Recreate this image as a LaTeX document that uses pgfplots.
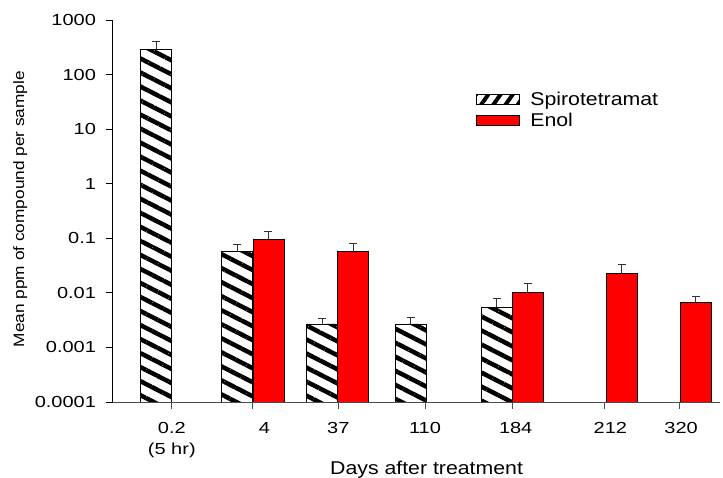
\documentclass[border=0pt]{standalone}
\usepackage{pgfplots}
\pgfplotsset{compat=1.18}
\usetikzlibrary{patterns.meta}
\usepackage{fontspec}
\setmainfont[FakeStretch=1.15]{Liberation Sans}
\newfontfamily\tickfont[FakeStretch=1.25]{Liberation Sans}
\definecolor{enolred}{RGB}{255,0,0}
\pgfplotsset{myerr/.style={
  error bars/y dir=plus, error bars/y explicit, error bars/error mark=|,
  error bars/error bar style={black!80, line width=0.9pt},
  error bars/error mark options={black!80, mark size=4pt, line width=0.9pt}}}
\begin{document}
\begin{tikzpicture}
\useasboundingbox (0,0) rectangle (723pt,478pt);
\begin{axis}[
  at={(112.5pt,76pt)}, anchor=south west,
  scale only axis, width=607.5pt, height=382pt,
  xmin=112.5, xmax=722,
  ymode=log, ymin=1e-4, ymax=1000, log origin=infty,
  axis x line*=bottom, axis y line*=left,
  x axis line style={black!70, line width=0.9pt},
  y axis line style={black, line width=0.8pt},
  tick align=outside, major tick length=7pt,
  xtick style={black!70, line width=0.8pt},
  ytick style={black, line width=0.8pt},
  xtick={172,253,339,426,514,606,681},
  xticklabels={{0.2\\(5 hr)},{\hspace*{24pt}4\\~},{37\\~},{110\\~},{\hspace*{6pt}184\\~},{\hspace*{12pt}212\\~},{\hspace*{4pt}320\\~}},
  xticklabel style={align=center, font=\fontsize{16}{21}\tickfont, anchor=north, yshift=-10pt},
  ytick={1e-4,1e-3,0.01,0.1,1,10,100,1000},
  yticklabels={0.0001,0.001,0.01,0.1,1,10,100,1000},
  yticklabel style={font=\fontsize{16}{20}\tickfont, xshift=-6pt},
  yminorticks=false,
  xlabel={Days after treatment},
  xlabel style={at={(axis description cs:0.517,-0.178)}, anchor=center, font=\fontsize{18.5}{20}\selectfont},
  ylabel={Mean ppm of compound per sample},
  ylabel style={at={(axis description cs:-0.152,0.505)}, anchor=center, rotate=0, font=\fontsize{15}{18}\selectfont},
  /pgf/number format/assume math mode=true,
  ybar, bar width=31, bar shift=0pt,
]
\addplot[draw=black, line width=0.8pt, fill=white, postaction={pattern={Lines[angle=-27, distance=12.5pt, line width=4.5pt]}, pattern color=black}, forget plot, myerr]
  coordinates {
  (156.3,294) +- (0,106)
  (237.5,0.0568) +- (0,0.0217)
  (323,0.00269) +- (0,0.00077)
  (411.8,0.00269) +- (0,0.00081)
  (497.8,0.00543) +- (0,0.00251)
  };
\addplot[draw=black, line width=0.8pt, fill=enolred, forget plot, myerr]
  coordinates {
  (269,0.0958) +- (0,0.036)
  (354,0.0568) +- (0,0.0252)
  (529,0.0102) +- (0,0.0048)
  (623.2,0.0224) +- (0,0.0114)
  (697.8,0.00671) +- (0,0.00194)
  };
\end{axis}
\begin{axis}[
  at={(112.5pt,76pt)}, anchor=south west,
  scale only axis, width=607.5pt, height=382pt,
  xmin=0, xmax=1, ymin=0, ymax=1, hide axis,
  legend style={at={(rel axis cs:0.595,0.818)}, anchor=north west, draw=none, fill=none,
    font=\fontsize{18.5}{20}\selectfont, row sep=2pt, inner sep=0pt},
  legend cell align=left,
]
\addlegendimage{legend image code/.code={
  \fill[white] (0pt,-5pt) rectangle (43pt,5pt);
  \fill[pattern={Lines[angle=55, distance=10pt, line width=4pt]}, pattern color=black] (0pt,-5pt) rectangle (43pt,5pt);
  \draw[black, line width=0.8pt] (0pt,-5pt) rectangle (43pt,5pt);
  \path (52pt,0pt);}}
\addlegendentry{Spirotetramat}
\addlegendimage{legend image code/.code={
  \fill[enolred] (0pt,-5pt) rectangle (43pt,5pt);
  \draw[black, line width=0.8pt] (0pt,-5pt) rectangle (43pt,5pt);
  \path (52pt,0pt);}}
\addlegendentry{Enol}
\end{axis}
\end{tikzpicture}
\end{document}
